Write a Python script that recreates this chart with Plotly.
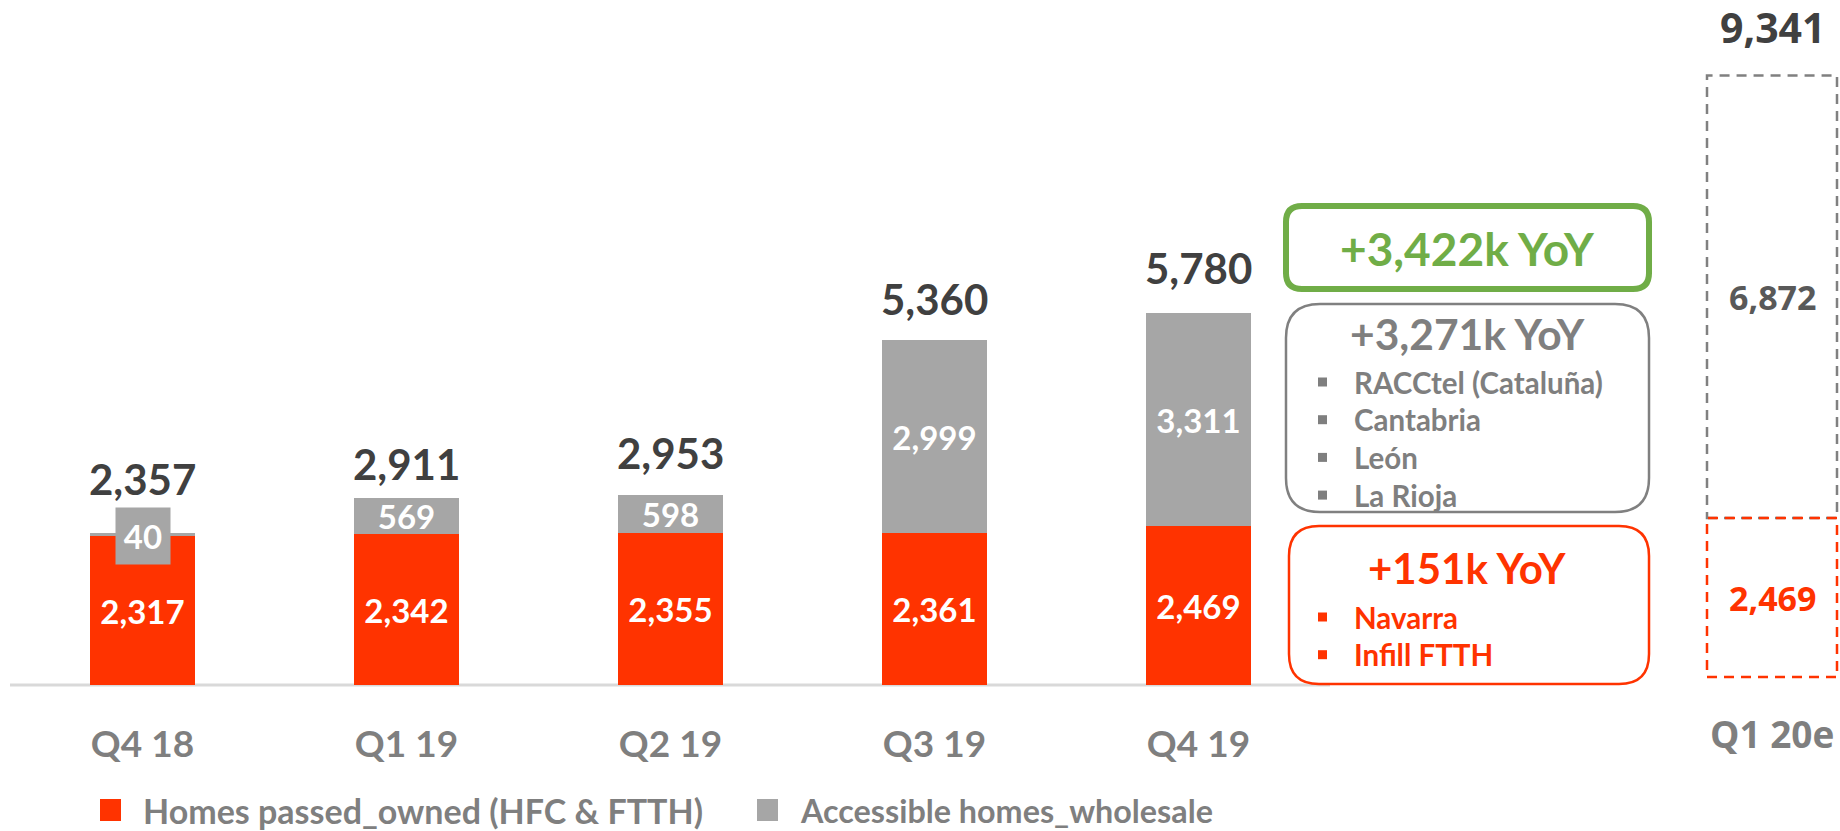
import plotly.graph_objects as go

# ---------------- data ----------------
quarters = ["Q4 18", "Q1 19", "Q2 19", "Q3 19", "Q4 19"]
homes_owned = [2317, 2342, 2355, 2361, 2469]
wholesale = [40, 569, 598, 2999, 3311]
totals = [2357, 2911, 2953, 5360, 5780]

est_label = "Q1 20e"
est_owned = 2469
est_wholesale = 6872
est_total = 9341

series_names = ["Homes passed_owned (HFC & FTTH)", "Accessible homes_wholesale"]

yoy_total = "+3,422k YoY"
yoy_wholesale = "+3,271k YoY"
wholesale_regions = ["RACCtel (Cataluña)", "Cantabria", "León", "La Rioja"]
yoy_owned = "+151k YoY"
owned_drivers = ["Navarra", "Infill FTTH"]

# ---------------- style / layout ----------------
RED = "#FF3300"
GREY_BAR = "#A6A6A6"
GREY_TXT = "#7F7F7F"
DARK = "#404040"
GREEN = "#70AD47"
FONT = "Lato"
FONT2 = "Open Sans"
series_colors = [RED, GREY_BAR]

W, H = 1840, 831
PLOT_BOTTOM = 685          # pixel row of the baseline
PX_PER_UNIT = 0.0644
X0_PX, STEP_PX = 142.5, 264.0
BAR_W = 105 / STEP_PX
EST_X = (1772 - X0_PX) / STEP_PX
EST_W = 130 / STEP_PX
EST_SHIFT_PX = 8           # estimate box drawn slightly higher
total_lift = [54, 34, 42, 41, 45]


def fx(p):
    return p / W


def fy(p):
    return (PLOT_BOTTOM - p) / PLOT_BOTTOM


def fmt(v):
    return f"{v:,}"


x_pos = list(range(len(quarters)))

fig = go.Figure()
fig.add_trace(go.Bar(
    x=x_pos, y=homes_owned, width=BAR_W, name=series_names[0],
    marker=dict(color=series_colors[0], line=dict(width=0)),
    text=[fmt(v) for v in homes_owned], textposition="inside",
    insidetextanchor="middle", constraintext="none", textangle=0,
    textfont=dict(family=FONT, size=33, color="white", weight="bold"),
    hoverinfo="skip", showlegend=False,
))
fig.add_trace(go.Bar(
    x=x_pos, y=wholesale, width=BAR_W, name=series_names[1],
    marker=dict(color=series_colors[1], line=dict(width=0)),
    text=["" if v < 100 else fmt(v) for v in wholesale], textposition="inside",
    insidetextanchor="middle", constraintext="none", textangle=0,
    textfont=dict(family=FONT, size=33, color="white", weight="bold"),
    hoverinfo="skip", showlegend=False,
))

annotations = []
shapes = []

# totals above bars
for xp, t, lift in zip(x_pos, totals, total_lift):
    annotations.append(dict(x=xp, y=t, xref="x", yref="y", text=fmt(t), showarrow=False,
                            xanchor="center", yanchor="middle", yshift=lift,
                            font=dict(family=FONT, size=42, color=DARK, weight="bold")))

# small wholesale values get a grey label box
for xp, o, w in zip(x_pos, homes_owned, wholesale):
    if w < 100:
        annotations.append(dict(x=xp, y=o, xref="x", yref="y", text=fmt(w), showarrow=False,
                                xanchor="center", yanchor="middle", bgcolor=GREY_BAR,
                                width=54, height=56, borderpad=0,
                                font=dict(family=FONT, size=33, color="white", weight="bold")))

# estimate column (dashed outline)
for lo, hi, col in [(est_owned, est_total, "#808080"), (0, est_owned, RED)]:
    shapes.append(dict(type="rect", xref="x", yref="y2", x0=EST_X - EST_W / 2, x1=EST_X + EST_W / 2,
                       y0=lo, y1=hi, line=dict(color=col, width=2.5, dash="10px,7px"),
                       fillcolor="rgba(0,0,0,0)", layer="above"))
annotations += [
    dict(x=EST_X, y=est_total, xref="x", yref="y2", text=fmt(est_total), showarrow=False,
         xanchor="center", yanchor="middle", yshift=48,
         font=dict(family=FONT2, size=41, color=DARK, weight="bold")),
    dict(x=EST_X, y=est_owned + est_wholesale / 2, xref="x", yref="y2", text=fmt(est_wholesale),
         showarrow=False, xanchor="center", yanchor="middle",
         font=dict(family=FONT2, size=34, color="#595959", weight="bold")),
    dict(x=EST_X, y=est_owned / 2, xref="x", yref="y2", text=fmt(est_owned),
         showarrow=False, xanchor="center", yanchor="middle",
         font=dict(family=FONT2, size=34, color=RED, weight="bold")),
    dict(x=EST_X, y=fy(733), xref="x", yref="paper", text=est_label, showarrow=False,
         xanchor="center", yanchor="middle",
         font=dict(family=FONT2, size=37, color=GREY_TXT, weight="bold")),
]

# baseline
shapes.append(dict(type="line", xref="paper", yref="paper", x0=fx(10), x1=fx(1330), y0=0, y1=0,
                   line=dict(color="#D9D9D9", width=3), layer="below"))


def rrect(x0, y0, x1, y1, r):
    def P(x, y):
        return f"{fx(x):.5f},{fy(y):.5f}"
    return (f"M{P(x0 + r, y0)} L{P(x1 - r, y0)} Q{P(x1, y0)} {P(x1, y0 + r)} "
            f"L{P(x1, y1 - r)} Q{P(x1, y1)} {P(x1 - r, y1)} L{P(x0 + r, y1)} "
            f"Q{P(x0, y1)} {P(x0, y1 - r)} L{P(x0, y0 + r)} Q{P(x0, y0)} {P(x0 + r, y0)} Z")


BOX_CX = 1467
shapes += [
    dict(type="path", xref="paper", yref="paper", path=rrect(1286, 206, 1649, 289, 16),
         line=dict(color=GREEN, width=6), fillcolor="white", layer="above"),
    dict(type="path", xref="paper", yref="paper", path=rrect(1286, 304, 1649, 512, 34),
         line=dict(color="#808080", width=2.5), fillcolor="white", layer="above"),
    dict(type="path", xref="paper", yref="paper", path=rrect(1289, 526, 1649, 684, 30),
         line=dict(color=RED, width=2.5), fillcolor="white", layer="above"),
]
annotations += [
    dict(x=fx(BOX_CX), y=fy(248), xref="paper", yref="paper", text=yoy_total, showarrow=False,
         xanchor="center", yanchor="middle", font=dict(family=FONT, size=46, color=GREEN, weight="bold")),
    dict(x=fx(BOX_CX), y=fy(333), xref="paper", yref="paper", text=yoy_wholesale, showarrow=False,
         xanchor="center", yanchor="middle", font=dict(family=FONT, size=42.5, color=GREY_TXT, weight="bold")),
    dict(x=fx(BOX_CX), y=fy(568), xref="paper", yref="paper", text=yoy_owned, showarrow=False,
         xanchor="center", yanchor="middle", font=dict(family=FONT, size=42, color=RED, weight="bold")),
]
for items, y_start, col in [(wholesale_regions, 382, GREY_TXT), (owned_drivers, 617, RED)]:
    for i, label in enumerate(items):
        yc = y_start + i * 37.7
        shapes.append(dict(type="rect", xref="paper", yref="paper", x0=fx(1318), x1=fx(1327),
                           y0=fy(yc - 4.5), y1=fy(yc + 4.5), fillcolor=col, line=dict(width=0),
                           layer="above"))
        annotations.append(dict(x=fx(1352), y=fy(yc), xref="paper", yref="paper", text=label,
                                showarrow=False, xanchor="left", yanchor="middle",
                                font=dict(family=FONT, size=29.5, color=col, weight="bold")))

# legend (square swatch + label)
LEG_Y = 810
for name, col, sq_x, txt_x, fsize in zip(series_names, series_colors, [100, 757], [141, 798], [34, 32.3]):
    shapes.append(dict(type="rect", xref="paper", yref="paper", x0=fx(sq_x), x1=fx(sq_x + 21),
                       y0=fy(LEG_Y - 11), y1=fy(LEG_Y + 11), fillcolor=col, line=dict(width=0)))
    annotations.append(dict(x=fx(txt_x), y=fy(LEG_Y), xref="paper", yref="paper", text=name,
                            showarrow=False, xanchor="left", yanchor="middle",
                            font=dict(family=FONT, size=fsize, color=GREY_TXT, weight="bold")))

y_top = PLOT_BOTTOM / PX_PER_UNIT
shift_units = EST_SHIFT_PX / PX_PER_UNIT

fig.update_layout(
    width=W, height=H,
    margin=dict(l=0, r=0, t=0, b=H - PLOT_BOTTOM, pad=0),
    paper_bgcolor="white", plot_bgcolor="white",
    barmode="stack", bargap=0,
    xaxis=dict(range=[-X0_PX / STEP_PX, (W - X0_PX) / STEP_PX], tickvals=x_pos, ticktext=quarters,
               showgrid=False, zeroline=False, showline=False, ticks="", ticklabelstandoff=34,
               tickfont=dict(family=FONT, size=37, color=GREY_TXT, weight="bold"), fixedrange=True),
    yaxis=dict(range=[0, y_top], visible=False, showgrid=False, zeroline=False, fixedrange=True),
    yaxis2=dict(range=[-shift_units, y_top - shift_units], overlaying="y", visible=False,
                showgrid=False, zeroline=False),
    showlegend=False,
    shapes=shapes, annotations=annotations,
)

fig.write_html("out.html", config={"displayModeBar": False},
               post_script="document.body.style.margin='0';document.body.style.overflow='hidden';")
